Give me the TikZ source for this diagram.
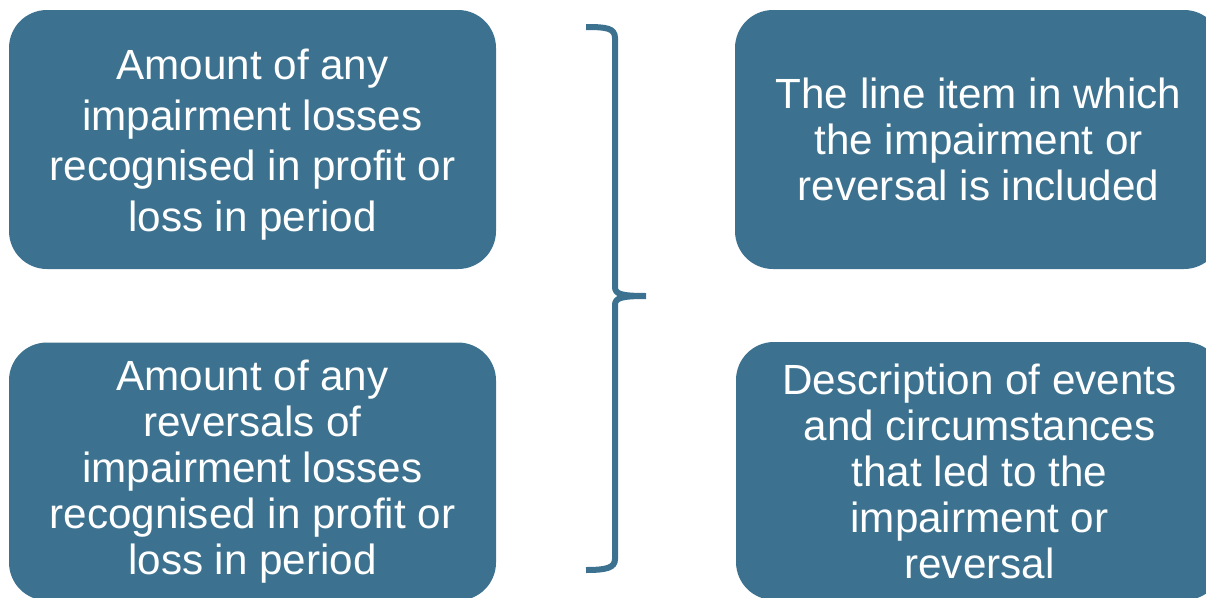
\documentclass[tikz,border=0pt]{standalone}
\usepackage{fontspec}
\setmainfont{Liberation Sans}
\definecolor{boxblue}{RGB}{60,114,143}
\begin{document}
\begin{tikzpicture}[x=1pt,y=-1pt,
  infobox/.style={fill=boxblue, draw=none, rounded corners=38pt,
    minimum width=487pt, minimum height=259pt, inner sep=0pt,
    text=white, align=center, font=\fontsize{42.2}{46}\selectfont},
  boxtext/.style={inner sep=0pt, text=white, align=center,
    font=\fontsize{42.2}{50.5}\selectfont},
  bracket/.style={draw=boxblue, line width=6pt}]
\useasboundingbox (0,0) rectangle (1206,597);
\clip (0,0) rectangle (1206,597);

% left column
\node[infobox] (lossbox) at (252.5,139.5) {};
\node[boxtext] (losstext) at (252.5,144.5)
  {Amount of any\\impairment losses\\recognised in profit or\\loss in period};
\node[infobox, minimum height=258pt] (revbox) at (252.5,471.5)
  {Amount of any\\reversals of\\impairment losses\\recognised in profit or\\loss in period};

% right column
\node[infobox] (linebox) at (978.5,139.5)
  {The line item in which\\the impairment or\\reversal is included};
\node[infobox, minimum height=258pt] (eventbox) at (979.5,471)
  {Description of events\\and circumstances\\that led to the\\impairment or\\reversal};

% curly bracket between the columns
\draw[bracket] (586,27) .. controls (606,27) and (615,28) .. (615,38)
  -- (615,287) .. controls (615,294) and (621,296) .. (646,296)
  (646,296) .. controls (621,296) and (615,298) .. (615,305)
  -- (615,559) .. controls (615,568) and (606,570) .. (586,570);
\end{tikzpicture}
\end{document}
